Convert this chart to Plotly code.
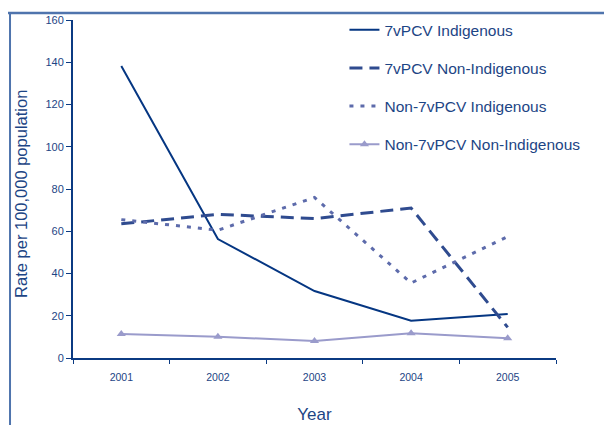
import plotly.graph_objects as go

years = ["2001", "2002", "2003", "2004", "2005"]
pcv7_indig = [138.2, 56.3, 31.7, 17.6, 20.8]
pcv7_nonindig = [63.5, 68.0, 66.0, 71.0, 14.5]
non7_indig = [65.5, 60.5, 76.0, 35.5, 57.5]
non7_nonindig = [11.4, 10.1, 8.0, 11.7, 9.3]
y_ticks = [0, 20, 40, 60, 80, 100, 120, 140, 160]

navy = "#0b3a82"
txt = "#1d4585"

fig = go.Figure()
fig.add_trace(go.Scatter(x=years, y=pcv7_indig, name="7vPCV Indigenous", mode="lines",
                         line=dict(color="#053682", width=2), legendgroup="a"))
fig.add_trace(go.Scatter(x=years, y=pcv7_nonindig, name="7vPCV Non-Indigenous", mode="lines",
                         line=dict(color="#2f4b8f", width=3, dash="13px,7px"), legendgroup="b"))
fig.add_trace(go.Scatter(x=years, y=non7_indig, name="Non-7vPCV Indigenous", mode="lines",
                         line=dict(color="#5d6bab", width=3, dash="4px,7px"), legendgroup="c"))
fig.add_trace(go.Scatter(x=years, y=non7_nonindig, name="Non-7vPCV Non-Indigenous", mode="lines+markers",
                         line=dict(color="#9a9bcb", width=2),
                         marker=dict(symbol="triangle-up", size=8, color="#9a9bcb"), legendgroup="d"))

# frame lines (top and left) like the reference image border
fig.add_shape(type="line", xref="paper", yref="paper", x0=-0.135, x1=1.15, y0=1.021, y1=1.021,
              line=dict(color="#4f74ad", width=2.5), layer="above")
fig.add_shape(type="line", xref="paper", yref="paper", x0=-0.1304, x1=-0.1304, y0=1.021, y1=-0.25,
              line=dict(color="#4f74ad", width=2), layer="above")

# y-axis title as an annotation for precise placement
fig.add_annotation(text="Rate per 100,000 population", xref="paper", yref="paper",
                   x=-0.108, y=0.485, xanchor="center", yanchor="middle", textangle=-90,
                   showarrow=False, font=dict(size=16.5, color=txt))

fig.update_layout(
    width=612, height=425,
    margin=dict(l=65, r=64, t=12, b=75, autoexpand=False),
    paper_bgcolor="white", plot_bgcolor="white",
    font=dict(family="Liberation Sans, Arial, sans-serif", color=txt),
    showlegend=True,
    legend=dict(x=0.562, y=1.02, xanchor="left", yanchor="top", bgcolor="rgba(0,0,0,0)",
                font=dict(size=15.5, color=txt), tracegroupgap=15, traceorder="grouped"),
    xaxis=dict(type="category", range=[-0.5, 4.5], tickson="boundaries", ticks="outside", ticklen=4,
               tickcolor=navy, showline=True, linecolor=navy, linewidth=2, showgrid=False, zeroline=False,
               automargin=False, ticklabelstandoff=8,
               tickfont=dict(size=10.5, color=txt),
               title=dict(text="Year", font=dict(size=17, color=txt), standoff=27)),
    yaxis=dict(range=[0, 160], tickvals=y_ticks, ticks="outside", ticklen=5, tickcolor=navy,
               showline=True, linecolor=navy, linewidth=2, showgrid=False, zeroline=False,
               automargin=False,
               tickfont=dict(size=11, color=txt)),
)

fig.write_html("out.html")
